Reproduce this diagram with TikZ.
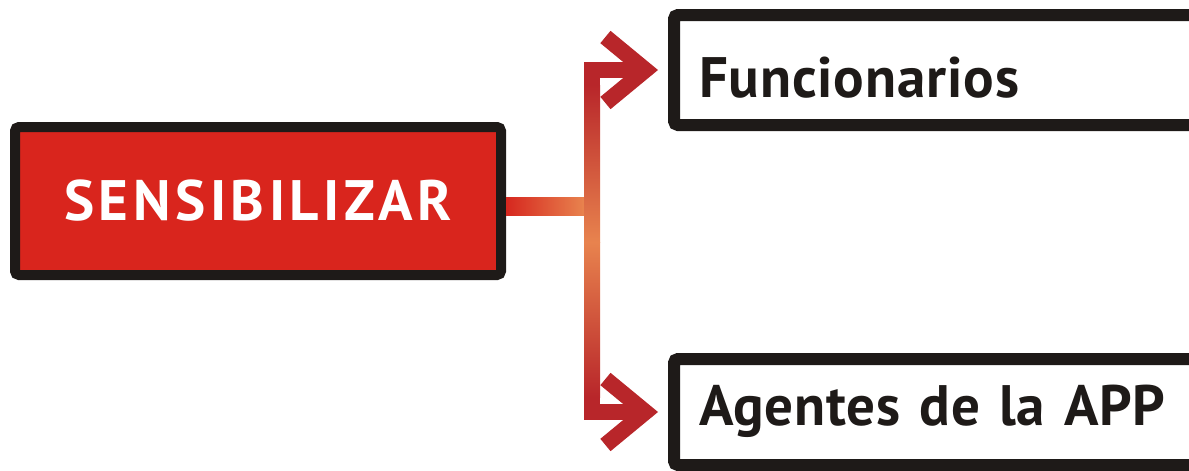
\documentclass[tikz,border=0pt]{standalone}
\usepackage{fontspec}
\setmainfont{PT Sans}
\usetikzlibrary{positioning, arrows.meta, calc}
\definecolor{boxred}{HTML}{D9251D}
\definecolor{boxline}{HTML}{1E1A18}
\definecolor{linkred}{HTML}{D6271F}
\definecolor{linkdark}{HTML}{B8262A}
\definecolor{linkorange}{HTML}{E8834E}

\begin{document}
\begin{tikzpicture}[x=1pt, y=-1pt,
  mainbox/.style={draw=boxline, fill=boxred, line width=10pt, rounded corners=4pt, minimum width=486pt, minimum height=148pt, inner sep=0pt, text=white, font=\fontsize{57}{60}\selectfont\bfseries\addfontfeatures{LetterSpace=8}},
  target/.style={draw=boxline, fill=white, line width=12pt, rounded corners=4pt, minimum width=530pt, text width=480pt, inner xsep=25pt, inner ysep=0pt, align=left, text=boxline, font=\fontsize{57}{60}\selectfont\bfseries\addfontfeatures{LetterSpace=1.5}},
  link/.style={draw=linkdark, line width=16pt, line join=miter},
  tip/.style={-{Straight Barb[length=40pt, width=66pt]}, shorten >=10pt}]

    \useasboundingbox (0,0) rectangle (1189,471);

    % Define the boxes (nodes)
    \node[mainbox] (sens) at (258,201) {SENSIBILIZAR};
    \node[target, minimum height=110pt, text height=54pt, text depth=0pt] (func) at (939,70) {Funcionarios};
    \node[target, minimum height=106pt, text height=40pt, text depth=14pt] (agent) at (939,412) {Agentes de la APP};
    \coordinate (jn) at (592,206);
    \coordinate (vtop) at (584,85);
    \coordinate (vmid) at (600,242);
    \coordinate (vmid2) at (584,242);
    \coordinate (vbot) at (600,397);

    % Define the connectors (edges)
    \draw[link] ([yshift=-5pt]sens.east) -- (jn);
    \draw[link, tip] (jn) |- (func.west);
    \draw[link, tip] (jn) |- (agent.west);

    % colour fade along the bars
    \shade[left color=linkred, right color=linkorange] ($(sens.east)+(0,-4)$) rectangle ($(jn)+(-8,9)$);
    \shade[top color=linkdark, middle color=linkred, bottom color=linkorange] (vtop) rectangle (vmid);
    \shade[top color=linkorange, middle color=linkred, bottom color=linkdark] (vmid2) rectangle (vbot);

\end{tikzpicture}
\end{document}
